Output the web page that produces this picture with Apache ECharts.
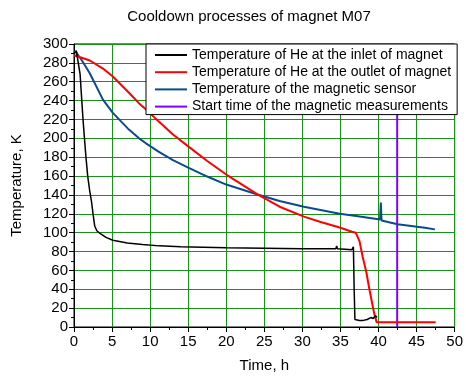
<!doctype html>
<html>
<head>
<meta charset="UTF-8">
<title>Cooldown processes of magnet M07</title>
<script src="https://cdn.jsdelivr.net/npm/echarts@6/dist/echarts.min.js"></script>
<style>
  html, body { margin: 0; padding: 0; background: #fff; }
  #main { width: 466px; height: 378px; }
</style>
</head>
<body>
<div id="main"></div>
<script>
// He inlet (black)
var inletTime = [0, 0.3, 0.8, 1.2, 1.55, 1.8, 2.05, 2.3, 2.5, 2.72, 3.0, 3.37, 4.2, 5.1, 7, 9, 11.2, 14, 17, 20, 25, 30, 34.4, 34.5, 34.6, 36.5, 36.7, 36.8, 36.9, 37.5, 38, 38.5, 39, 39.3, 39.6, 39.8];
var inletTemp = [290, 293, 268, 218, 182, 160, 145, 133, 120, 107, 102, 99.5, 95, 92, 89, 87.5, 86, 85, 84.5, 84, 83.5, 83, 83, 86, 83, 82, 85, 40, 8, 7, 7, 8, 10, 9, 12, 10];
// He outlet (red)
var outletTime = [0, 0.8, 2.07, 3.8, 5.1, 7.25, 8.55, 9.4, 11.1, 13, 15, 17.5, 20, 24.1, 27, 30.2, 32.5, 34.9, 36.5, 37.0, 37.5, 37.9, 38.4, 38.8, 39.4, 39.75, 47.5];
var outletTemp = [288, 286, 282.5, 274, 265.5, 248, 237, 231, 218, 204, 191.5, 176, 161.6, 140.5, 127.5, 117, 111, 105.5, 101, 100, 91, 75, 58, 40, 15.5, 5, 5];
// magnetic sensor (blue)
var sensorTime = [0, 0.3, 1, 2.07, 3.8, 5.1, 7.25, 8.55, 9.4, 11.1, 13, 15, 17.5, 20, 24.1, 27, 30.2, 34.9, 37.3, 37.4, 40.2, 40.3, 40.4, 42.5, 46.1, 47.4];
var sensorTemp = [292, 291, 283, 269, 241, 227, 209, 200, 195, 186, 177, 169, 159.5, 151, 140.5, 133.5, 127.5, 120, 117.5, 119, 114, 132, 113, 109, 105.3, 103.5];
// start of magnetic measurements (purple)
var startTime = [42.45, 42.45];
var startTemp = [0, 300];

var names = [
    'Temperature of He at the inlet of magnet',
    'Temperature of He at the outlet of magnet',
    'Temperature of the magnetic sensor',
    'Start time of the magnetic measurements'
];

function pairs(xs, ys) {
    return xs.map(function (x, i) { return [x, ys[i]]; });
}

var font = 'Liberation Sans, Arial, sans-serif';
var myChart = echarts.init(document.getElementById('main'));

var option = {
    animation: false,
    title: {
        text: 'Cooldown processes of magnet M07',
        left: 244,
        textAlign: 'center',
        top: 4,
        textStyle: { fontFamily: font, fontSize: 15, fontWeight: 'normal', color: '#000' }
    },
    legend: {
        orient: 'vertical',
        left: 146,
        top: 44,
        padding: [4, 6, 1, 9],
        icon: 'rect',
        itemWidth: 32,
        itemHeight: 2,
        itemGap: 3.2,
        backgroundColor: '#fff',
        borderColor: '#000',
        borderWidth: 1,
        borderRadius: 0,
        textStyle: { fontFamily: font, fontSize: 14, color: '#000' },
        data: names
    },
    grid: {
        left: 74, right: 6, top: 44, bottom: 50,
        show: true,
        borderColor: '#000',
        borderWidth: 1,
        backgroundColor: 'transparent'
    },
    xAxis: {
        type: 'value',
        min: 0, max: 50, interval: 5,
        name: 'Time, h',
        nameLocation: 'middle',
        nameGap: 31,
        nameTextStyle: { fontFamily: font, fontSize: 15, color: '#000' },
        axisLine: { lineStyle: { color: '#000', width: 1 } },
        axisTick: { length: 5, lineStyle: { color: '#000' } },
        minorTick: { show: true, splitNumber: 2, length: 3, lineStyle: { color: '#000' } },
        axisLabel: { fontFamily: font, fontSize: 15, color: '#000', margin: 7 },
        splitLine: { lineStyle: { color: '#1a921a', width: 1 } }
    },
    yAxis: {
        type: 'value',
        min: 0, max: 300, interval: 20,
        name: 'Temperature, K',
        nameLocation: 'middle',
        nameGap: 50,
        nameTextStyle: { fontFamily: font, fontSize: 15, color: '#000' },
        axisLine: { show: true, lineStyle: { color: '#000', width: 1 } },
        axisTick: { show: true, length: 5, lineStyle: { color: '#000' } },
        minorTick: { show: true, splitNumber: 2, length: 3, lineStyle: { color: '#000' } },
        axisLabel: { fontFamily: font, fontSize: 15, color: '#000', margin: 6 },
        splitLine: { lineStyle: { color: '#1a921a', width: 1 } }
    },
    series: [
        {
            name: names[0], type: 'line', symbol: 'none',
            data: pairs(inletTime, inletTemp),
            lineStyle: { color: '#000', width: 1.5 },
            itemStyle: { color: '#000' }, z: 4
        },
        {
            name: names[1], type: 'line', symbol: 'none',
            data: pairs(outletTime, outletTemp),
            lineStyle: { color: '#ff0000', width: 2 },
            itemStyle: { color: '#ff0000' }, z: 3
        },
        {
            name: names[2], type: 'line', symbol: 'none',
            data: pairs(sensorTime, sensorTemp),
            lineStyle: { color: '#0b4a8b', width: 2 },
            itemStyle: { color: '#0b4a8b' }, z: 2
        },
        {
            name: names[3], type: 'line', symbol: 'none',
            data: pairs(startTime, startTemp),
            lineStyle: { color: '#8000ff', width: 2 },
            itemStyle: { color: '#8000ff' }, z: 1
        }
    ]
};

myChart.setOption(option);
</script>
</body>
</html>
